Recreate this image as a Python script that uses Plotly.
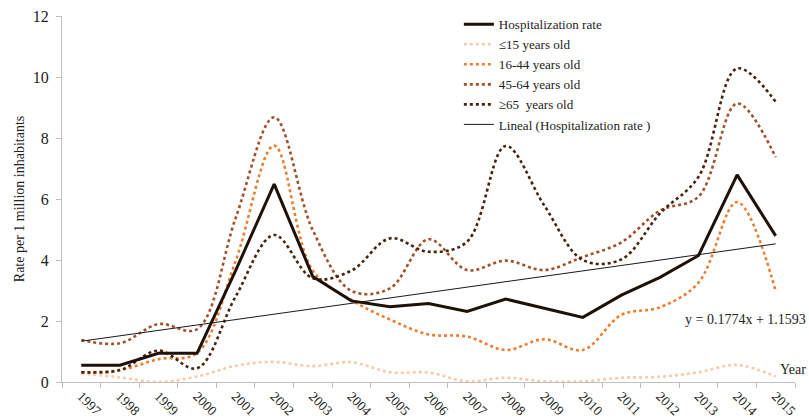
import plotly.graph_objects as go

years = [str(y) for y in range(1997, 2016)]
hosp_rate = [0.55, 0.55, 0.94, 0.94, 3.65, 6.49, 3.46, 2.66, 2.47, 2.57, 2.31, 2.72, 2.42, 2.12, 2.85, 3.43, 4.15, 6.79, 4.79]
age_le15 = [0.28, 0.15, 0.0, 0.18, 0.53, 0.66, 0.52, 0.65, 0.32, 0.31, 0.02, 0.14, 0.02, 0.02, 0.14, 0.17, 0.32, 0.56, 0.18]
age_16_44 = [0.32, 0.39, 0.75, 0.95, 3.97, 7.75, 3.65, 2.69, 2.05, 1.56, 1.49, 1.05, 1.4, 1.05, 2.2, 2.45, 3.26, 5.9, 2.99]
age_45_64 = [1.38, 1.27, 1.9, 1.73, 5.37, 8.68, 4.98, 2.99, 3.07, 4.68, 3.67, 3.98, 3.67, 4.1, 4.58, 5.62, 6.08, 9.13, 7.37]
age_ge65 = [0.32, 0.39, 1.03, 0.45, 2.8, 4.82, 3.4, 3.65, 4.71, 4.27, 4.6, 7.74, 5.79, 4.0, 4.02, 5.53, 6.73, 10.28, 9.19]
trend_slope = 0.1774
trend_intercept = 1.1593
y_ticks = [0, 2, 4, 6, 8, 10, 12]

trend = [trend_slope * (i + 1) + trend_intercept for i in range(len(years))]

FONT = "Liberation Serif, Times New Roman, serif"
TXT = "#222222"

fig = go.Figure()
series = [
    ("≤15 years old", age_le15, "#F8CBAD", 2),
    ("16-44 years old", age_16_44, "#ED7D31", 3),
    ("45-64 years old", age_45_64, "#A0502A", 4),
    ("≥65\u00a0 years old", age_ge65, "#45230C", 5),
]
for name, vals, col, rank in series:
    fig.add_trace(go.Scatter(
        x=years, y=vals, name=name, mode="lines", legendrank=rank,
        line=dict(color=col, width=2.6, dash="dot", shape="spline", smoothing=1.0),
    ))
fig.add_trace(go.Scatter(
    x=years, y=trend, name="Lineal (Hospitalization rate )", mode="lines", legendrank=6,
    line=dict(color="#1a1a1a", width=1),
))
fig.add_trace(go.Scatter(
    x=years, y=hosp_rate, name="Hospitalization rate", mode="lines", legendrank=1,
    line=dict(color="#1E1208", width=3),
))

fig.update_layout(
    width=809, height=419,
    margin=dict(l=62, r=14, t=16, b=37, autoexpand=False),
    paper_bgcolor="white", plot_bgcolor="white",
    font=dict(family=FONT, size=14, color=TXT),
    showlegend=True,
    legend=dict(
        x=0.5414, y=1.0185, xanchor="left", yanchor="top",
        font=dict(family=FONT, size=13.1, color=TXT),
        bgcolor="rgba(0,0,0,0)", tracegroupgap=0,
    ),
    xaxis=dict(
        type="category", range=[-0.5, 18.5], tickangle=45,
        showline=True, linecolor="#BFBFBF", linewidth=1,
        ticks="outside", tickson="boundaries", ticklen=5, tickcolor="#BFBFBF",
        showgrid=False, zeroline=False, automargin=False, ticklabeloverflow="allow",
        tickfont=dict(family=FONT, size=13.5, color=TXT),
    ),
    yaxis=dict(
        range=[0, 12], tickvals=y_ticks,
        showline=True, linecolor="#BFBFBF", linewidth=1,
        ticks="outside", ticklen=5, tickcolor="#BFBFBF", ticklabelstandoff=4,
        showgrid=False, zeroline=False, automargin=False, ticklabeloverflow="allow",
        tickfont=dict(family=FONT, size=16, color=TXT),
        title=dict(text="Rate per 1 million inhabitants", standoff=4,
                   font=dict(family=FONT, size=14, color=TXT)),
    ),
    annotations=[
        dict(text="y = 0.1774x + 1.1593", xref="paper", yref="paper",
             x=1.0177, y=0.172, xanchor="right", yanchor="middle",
             showarrow=False, font=dict(family=FONT, size=14, color=TXT)),
        dict(text="Year", xref="paper", yref="paper",
             x=1.0177, y=0.0355, xanchor="right", yanchor="middle",
             showarrow=False, font=dict(family=FONT, size=14, color=TXT)),
    ],
)

fig.write_html(
    "out.html",
    config={"displayModeBar": False},
    post_script="document.body.style.margin='0';document.body.style.overflow='hidden';",
)
